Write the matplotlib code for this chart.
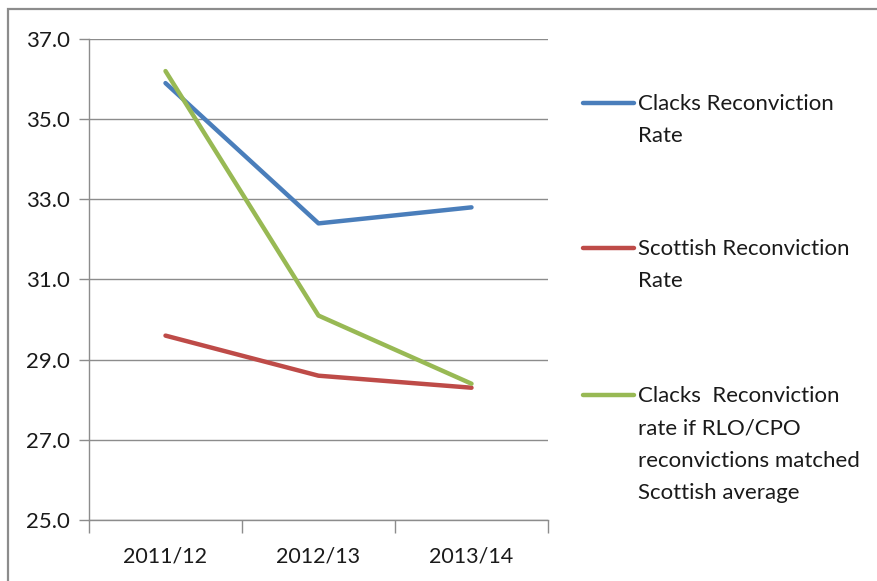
import matplotlib
matplotlib.use("Agg")
import matplotlib.pyplot as plt
from matplotlib.lines import Line2D

plt.rcParams["font.family"] = ["Lato", "DejaVu Sans"]

# Reconviction rates (%) by year
years = ["2011/12", "2012/13", "2013/14"]
clacks_rate = [35.9, 32.4, 32.8]
scottish_rate = [29.6, 28.6, 28.3]
clacks_if_matched = [36.2, 30.1, 28.4]

series_labels = [
    "Clacks Reconviction\nRate",
    "Scottish Reconviction\nRate",
    "Clacks  Reconviction\nrate if RLO/CPO\nreconvictions matched\nScottish average",
]
series_colors = ["#4A7EBB", "#BE4B48", "#98B954"]
y_ticks = [25.0, 27.0, 29.0, 31.0, 33.0, 35.0, 37.0]

W, H = 878, 581
fig = plt.figure(figsize=(W / 100, H / 100), dpi=100)

# Chart frame
frame = plt.Rectangle((8 / W, -0.02), 1.2, (H - 9) / H + 0.02, transform=fig.transFigure,
                      fill=False, edgecolor="#8c8c8c", linewidth=1.6)
fig.add_artist(frame)

ax = fig.add_axes([89 / W, (H - 520) / H, (548 - 89) / W, (520 - 39) / H])
x = list(range(len(years)))
all_series = [clacks_rate, scottish_rate, clacks_if_matched]
for vals, col in zip(all_series, series_colors):
    ax.plot(x, vals, color=col, linewidth=3.2, solid_capstyle="round", solid_joinstyle="round", zorder=3)

ax.set_xlim(-0.5, len(years) - 0.5)
ax.set_ylim(25, 37)
ax.set_yticks(y_ticks)
ax.set_yticklabels([f"{v:.1f}" for v in y_ticks])
ax.set_xticks(x)
ax.set_xticklabels(years)
ax.set_xticks([i - 0.5 for i in range(len(years) + 1)], minor=True)

ax.grid(axis="y", color="#8c8c8c", linewidth=1.0, zorder=1)
ax.set_axisbelow(True)
for side in ["top", "right"]:
    ax.spines[side].set_visible(False)
for side in ["left", "bottom"]:
    ax.spines[side].set_color("#8c8c8c")
    ax.spines[side].set_linewidth(1.0)

ax.tick_params(axis="y", length=7, width=1.0, color="#8c8c8c", pad=7, labelsize=16, labelcolor="#1a1a1a")
ax.tick_params(axis="x", which="major", length=0, pad=19, labelsize=15.5, labelcolor="#1a1a1a")
ax.tick_params(axis="x", which="minor", length=9, width=1.0, color="#8c8c8c")

# Legend to the right of the plot
legend_tops = [103, 248, 395]
for lab, col, ty in zip(series_labels, series_colors, legend_tops):
    fig.add_artist(Line2D([583 / W, 634 / W], [1 - ty / H, 1 - ty / H], transform=fig.transFigure,
                          color=col, linewidth=3.2, solid_capstyle="round"))
    fig.text(638 / W, 1 - (ty - 9) / H, lab, ha="left", va="top", fontsize=16,
             linespacing=1.78, color="#1a1a1a")

fig.savefig("out.png", dpi=100)
